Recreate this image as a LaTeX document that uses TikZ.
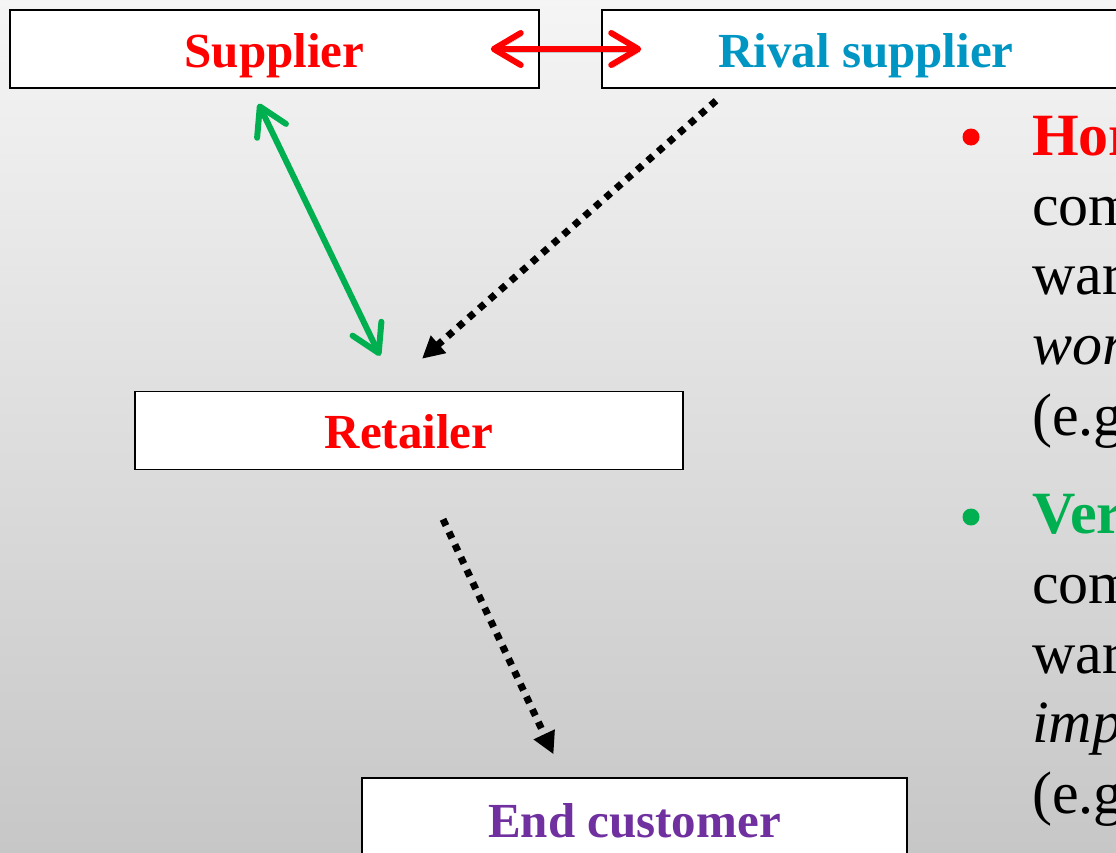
\documentclass[tikz,border=0pt]{standalone}
\usepackage{fontspec}
\setmainfont{Liberation Serif}
\usetikzlibrary{arrows.meta,calc}
\definecolor{cred}{RGB}{255,0,0}
\definecolor{cblue}{RGB}{0,150,195}
\definecolor{cgreen}{RGB}{0,176,80}
\definecolor{cpurple}{RGB}{112,48,160}
\tikzset{
 box/.style={draw=black, line width=1.5pt, fill=white, minimum height=78pt, inner sep=0pt,
   text height=36pt, text depth=0pt, font=\fontsize{49}{58}\selectfont\bfseries},
 body/.style={anchor=base west, inner sep=0pt, font=\fontsize{60}{70}\selectfont},
 chev/.style={line width=6pt, line cap=round,
   {Straight Barb[length=27pt,width=32pt,round]}-{Straight Barb[length=27pt,width=32pt,round]},
   preaction={draw=black,opacity=0.18,transform canvas={shift={(2pt,-3pt)}}}},
 dotline/.style={line width=7pt, dash pattern=on 7pt off 7pt, -{Triangle[length=22pt,width=22pt]}},
 bullet/.style={circle, inner sep=0pt, minimum size=17pt},
}
\begin{document}
\begin{tikzpicture}[x=1pt,y=-1pt]
\useasboundingbox (0,0) rectangle (1116,852);
\clip (0,0) rectangle (1116,852);
\shade[top color=black!4, bottom color=black!22] (0,0) rectangle (1116,852);

\node[box, minimum width=529pt, text=cred] (sup) at (274.5,49) {Supplier};
\node[box, minimum width=528pt, text=cblue] (riv) at (866,49) {Rival supplier};
\node[box, minimum width=548pt, text=cred] (ret) at (409,430.5) {Retailer};
\node[box, minimum width=545pt, text=cpurple, text height=41pt] (end) at (634.5,817) {End customer};

\draw[chev, draw=cred] ([xshift=-49pt]sup.east) -- ([xshift=40pt]riv.west);
\draw[chev, draw=cgreen] ([shift={(-16,15)}]sup.south) -- ([shift={(-29,-35)}]ret.north);
\draw[dotline] ([shift={(-150,12)}]riv.south) -- ([shift={(13,-32)}]ret.north);
\draw[dotline] ([shift={(34,49)}]ret.south) -- ([shift={(-81,-23)}]end.north);

\node[bullet, fill=cred] (b1) at (971,137) {};
\node[body, text=cred, font=\fontsize{60}{70}\selectfont\bfseries] (h1) at (1032,155) {Hor};
\node[body] (h2) at (1032,225) {com};
\node[body] (h3) at (1032,294) {war};
\node[body, font=\fontsize{60}{70}\selectfont\itshape] (h4) at (1032,364) {wor};
\node[body] (h5) at (1032,435) {(e.g};

\node[bullet, fill=cgreen] (b2) at (971,517) {};
\node[body, text=cgreen, font=\fontsize{60}{70}\selectfont\bfseries] (v1) at (1032,533) {Ver};
\node[body] (v2) at (1032,603) {com};
\node[body] (v3) at (1032,673) {war};
\node[body, font=\fontsize{60}{70}\selectfont\itshape] (v4) at (1032,742) {imp};
\node[body] (v5) at (1032,813) {(e.g};
\end{tikzpicture}
\end{document}
